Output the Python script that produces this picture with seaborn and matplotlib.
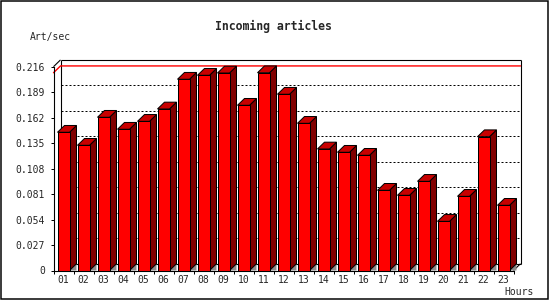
import numpy as np
import pandas as pd
import matplotlib
matplotlib.use("Agg")
import matplotlib.pyplot as plt
from matplotlib.patches import Polygon, Rectangle
from matplotlib.lines import Line2D
import seaborn as sns

# ---------------- data ----------------
hours = ["01", "02", "03", "04", "05", "06", "07", "08", "09", "10", "11", "12",
         "13", "14", "15", "16", "17", "18", "19", "20", "21", "22", "23"]
art_per_sec = [0.1465, 0.1327, 0.1624, 0.1497, 0.1581, 0.1712, 0.2027, 0.2069,
               0.2093, 0.1751, 0.2096, 0.1868, 0.1560, 0.1288, 0.1253, 0.1221,
               0.0850, 0.0797, 0.0945, 0.0521, 0.0786, 0.1418, 0.0691]
y_ticks = [0, 0.027, 0.054, 0.081, 0.108, 0.135, 0.162, 0.189, 0.216]
y_tick_labels = ["0", "0.027", "0.054", "0.081", "0.108", "0.135", "0.162", "0.189", "0.216"]
title = "Incoming articles"
y_title = "Art/sec"
x_title = "Hours"

df = pd.DataFrame({"hour": hours, "value": art_per_sec})

# ---------------- style ----------------
sns.set_style("white")
plt.rcParams["font.family"] = ["DejaVu Sans Mono", "DejaVu Sans"]

W, H, DPI = 550, 300, 100
fig = plt.figure(figsize=(W / DPI, H / DPI), dpi=DPI)
fig.patch.set_facecolor("white")

# front plane of the 3D box (pixel geometry)
ax_l, ax_r, ax_t, ax_b = 53.5, 513.5, 66.7, 270.5
ax = fig.add_axes([ax_l / W, (H - ax_b) / H, (ax_r - ax_l) / W, (ax_b - ax_t) / H])
ax.set_facecolor("none")

px = 1 * 72 / DPI  # one pixel in points

sns.barplot(data=df, x="hour", y="value", color="#FF0000", saturation=1,
            width=0.6, edgecolor="black", linewidth=px, ax=ax, zorder=5)

ax.set_xlim(-0.5, len(hours) - 0.5)
ax.set_ylim(y_ticks[0], y_ticks[-1])

# depth offset in data units (7 px right, 7 px up)
depth_x_px, depth_y_px = 7.0, 6.8
x0, x1 = ax.get_xlim()
y0, y1 = ax.get_ylim()
dx = depth_x_px * (x1 - x0) / (ax_r - ax_l)
dy = depth_y_px * (y1 - y0) / (ax_b - ax_t)

# ---- 3D faces of the bars ----
for p in ax.patches:
    x = p.get_x()
    w = p.get_width()
    h = p.get_height()
    side = Polygon([(x + w, 0), (x + w + dx, dy), (x + w + dx, h + dy), (x + w, h)],
                   closed=True, facecolor="#800000", edgecolor="black",
                   linewidth=px, zorder=4, clip_on=False)
    top = Polygon([(x, h), (x + w, h), (x + w + dx, h + dy), (x + dx, h + dy)],
                  closed=True, facecolor="#C80000", edgecolor="black",
                  linewidth=px, zorder=4, clip_on=False)
    shadow = Polygon([(x + w, 0), (x + w + dx, dy), (x + w + dx, 0)],
                     closed=True, facecolor="#8C8C8C", edgecolor="none",
                     zorder=3.5, clip_on=False)
    ax.add_patch(shadow)
    ax.add_patch(side)
    ax.add_patch(top)
    p.set_clip_on(False)

# ---- back plane: grid, box, max line ----
for v in y_ticks[1:-1]:
    ax.add_line(Line2D([x0 + dx, x1 + dx], [v + dy, v + dy], color="black",
                       linewidth=px, linestyle=(0, (2, 2)), zorder=1, clip_on=False))

box_kw = dict(color="black", linewidth=px * 1.1, zorder=2, clip_on=False,
              solid_capstyle="butt")
ax.add_line(Line2D([x0 + dx, x1 + dx], [y1 + dy, y1 + dy], **box_kw))
ax.add_line(Line2D([x0 + dx, x0 + dx], [y0 + dy, y1 + dy], **box_kw))
ax.add_line(Line2D([x1 + dx, x1 + dx], [y0 + dy, y1 + dy], **box_kw))
ax.add_line(Line2D([x0 + dx, x1 + dx], [y0 + dy, y0 + dy], **box_kw))
ax.add_line(Line2D([x0, x0 + dx], [y1, y1 + dy], **box_kw))
ax.add_line(Line2D([x1, x1 + dx], [y0, y0 + dy], **box_kw))

vmax = max(art_per_sec)
ax.add_line(Line2D([x0, x0 + dx, x1 + dx], [vmax, vmax + dy, vmax + dy],
                   color="#FF0000", linewidth=px * 1.4, zorder=2.5, clip_on=False))

# ---- axes / ticks ----
for s in ["top", "right"]:
    ax.spines[s].set_visible(False)
for s in ["left", "bottom"]:
    ax.spines[s].set_color("black")
    ax.spines[s].set_linewidth(px * 1.1)
    ax.spines[s].set_zorder(6)

ax.set_yticks(y_ticks)
ax.set_yticklabels(y_tick_labels)
ax.tick_params(axis="y", direction="out", length=2.0, width=px, color="black",
               pad=4.0, labelsize=7, left=True)

ax.set_xticks(np.arange(len(hours) + 1) - 0.5)
ax.set_xticklabels([])
ax.set_xticks(np.arange(len(hours)), minor=True)
ax.set_xticklabels(hours, minor=True)
ax.tick_params(axis="x", which="major", direction="out", length=2.5, width=px,
               color="black", bottom=True)
ax.tick_params(axis="x", which="minor", length=0, pad=3.0, labelsize=7)
ax.set_xlabel("")
ax.set_ylabel("")
ax.grid(False)

# ---- texts ----
fig.text(273.8 / W, 1 - 26.7 / H, title, ha="center", va="center",
         fontsize=8.3, fontweight="bold")
fig.text(30 / W, 1 - 36.7 / H, y_title, ha="left", va="center", fontsize=7)
fig.text(504.3 / W, 1 - 292.3 / H, x_title, ha="left", va="center", fontsize=7)

# ---- outer frame ----
fig.patches.append(Rectangle((0.5 / W, 1 - 299.2 / H), 547.8 / W, 298.7 / H,
                             transform=fig.transFigure, fill=False,
                             edgecolor="black", linewidth=1.5 * px))

fig.savefig("out.png", dpi=DPI, facecolor="white")
